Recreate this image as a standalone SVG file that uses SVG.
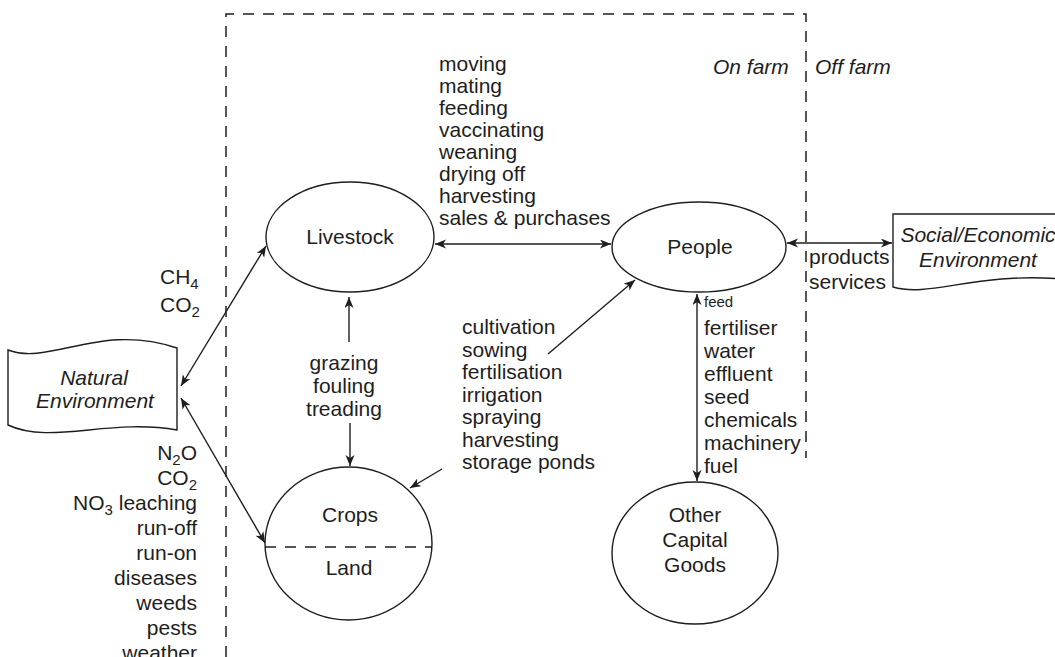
<svg xmlns="http://www.w3.org/2000/svg" width="1055" height="657" viewBox="0 0 1055 657">
  <style>
    .t { font-family: "Liberation Sans", Arial, Helvetica, sans-serif; font-size: 21px; fill: #1e1e1e; }
    .i { font-style: italic; }
    .c { text-anchor: middle; }
    .e { text-anchor: end; }
    .sm { font-size: 15px; }
    .node { fill: #fff; stroke: #1e1e1e; stroke-width: 1.4; }
    .line { fill: none; stroke: #1e1e1e; stroke-width: 1.4; }
    .dash { fill: none; stroke: #1e1e1e; stroke-width: 1.5; stroke-dasharray: 11 9; }
  </style>
  <defs>
    <marker id="ah" markerUnits="userSpaceOnUse" markerWidth="12" markerHeight="10" refX="11" refY="4.5" orient="auto-start-reverse">
      <path d="M0,0 L11,4.5 L0,9 L3,4.5 Z" fill="#1e1e1e"/>
    </marker>
  </defs>
  <rect width="1055" height="657" fill="#fff"/>

  <!-- farm boundary -->
  <g id="boundary">
    <path class="dash" d="M226,657 V14 H806 V458"/>
    <text class="t i" x="713" y="74">On farm</text>
    <text class="t i" x="815" y="74">Off farm</text>
  </g>

  <!-- connectors -->
  <g id="connectors">
    <line class="line" x1="435" y1="244" x2="611" y2="244" marker-start="url(#ah)" marker-end="url(#ah)"/>
    <line class="line" x1="787" y1="243" x2="892" y2="243" marker-start="url(#ah)" marker-end="url(#ah)"/>
    <line class="line" x1="181" y1="386" x2="266" y2="246" marker-start="url(#ah)" marker-end="url(#ah)"/>
    <line class="line" x1="181" y1="398" x2="265" y2="543" marker-start="url(#ah)" marker-end="url(#ah)"/>
    <line class="line" x1="349" y1="342" x2="349" y2="297" marker-end="url(#ah)"/>
    <line class="line" x1="350" y1="423" x2="350" y2="466" marker-end="url(#ah)"/>
    <line class="line" x1="442" y1="469" x2="410" y2="488" marker-end="url(#ah)"/>
    <line class="line" x1="548" y1="354" x2="635" y2="280" marker-end="url(#ah)"/>
    <line class="line" x1="697" y1="294" x2="697" y2="481" marker-start="url(#ah)" marker-end="url(#ah)"/>
    <line class="line" x1="402" y1="529" x2="402" y2="572" marker-start="url(#ah)" marker-end="url(#ah)"/>
  </g>

  <!-- nodes -->
  <g id="livestock">
    <ellipse class="node" cx="350" cy="237" rx="84" ry="55"/>
    <text class="t c" x="350" y="244">Livestock</text>
  </g>
  <g id="people">
    <ellipse class="node" cx="699" cy="247" rx="87" ry="45"/>
    <text class="t c" x="700" y="254">People</text>
  </g>
  <g id="crops-land">
    <ellipse class="node" cx="348.5" cy="543.5" rx="83.5" ry="76.5"/>
    <line class="dash" x1="265" y1="547" x2="432" y2="547" stroke-dasharray="12 8"/>
    <text class="t c" x="350" y="522">Crops</text>
    <text class="t c" x="349" y="575">Land</text>
  </g>
  <g id="capital">
    <ellipse class="node" cx="695" cy="553" rx="83" ry="71"/>
    <text class="t c" x="695" y="522">Other</text>
    <text class="t c" x="695" y="547">Capital</text>
    <text class="t c" x="695" y="572">Goods</text>
  </g>
  <g id="natural-environment">
    <path class="node" d="M8,350 C50,366 100,322 177,348 V430 C110,418 50,445 8,425 Z"/>
    <text class="t i c" x="94" y="385">Natural</text>
    <text class="t i c" x="95" y="408">Environment</text>
  </g>
  <g id="social-environment">
    <path class="node" d="M893,214 H1062 V279 C975,272 930,298 893,287 Z"/>
    <text class="t i c" x="978" y="242">Social/Economic</text>
    <text class="t i c" x="978" y="267">Environment</text>
  </g>

  <!-- flow labels -->
  <g id="livestock-people-labels" class="t">
    <text x="439" y="71">moving</text>
    <text x="439" y="93">mating</text>
    <text x="439" y="115">feeding</text>
    <text x="439" y="137">vaccinating</text>
    <text x="439" y="159">weaning</text>
    <text x="439" y="181">drying off</text>
    <text x="439" y="203">harvesting</text>
    <text x="439" y="225">sales &amp; purchases</text>
  </g>
  <g id="crop-labels" class="t">
    <text x="462" y="334">cultivation</text>
    <text x="462" y="356.5">sowing</text>
    <text x="462" y="379">fertilisation</text>
    <text x="462" y="401.5">irrigation</text>
    <text x="462" y="424">spraying</text>
    <text x="462" y="446.5">harvesting</text>
    <text x="462" y="469">storage ponds</text>
  </g>
  <g id="grazing-labels" class="t c">
    <text x="344" y="370">grazing</text>
    <text x="344" y="393">fouling</text>
    <text x="344" y="416">treading</text>
  </g>
  <g id="input-labels" class="t">
    <text class="t sm" x="704" y="307">feed</text>
    <text x="704" y="335">fertiliser</text>
    <text x="704" y="358">water</text>
    <text x="704" y="381">effluent</text>
    <text x="704" y="404">seed</text>
    <text x="704" y="427">chemicals</text>
    <text x="704" y="450">machinery</text>
    <text x="704" y="473">fuel</text>
  </g>
  <g id="market-labels" class="t">
    <text x="809" y="264">products</text>
    <text x="809" y="289">services</text>
  </g>
  <g id="emission-labels" class="t">
    <text x="160" y="284">CH<tspan font-size="15" dy="5">4</tspan></text>
    <text x="160" y="312">CO<tspan font-size="15" dy="5">2</tspan></text>
  </g>
  <g id="land-exchange-labels" class="t e">
    <text x="197" y="460">N<tspan font-size="15" dy="5">2</tspan><tspan dy="-5">O</tspan></text>
    <text x="197" y="485">CO<tspan font-size="15" dy="5">2</tspan></text>
    <text x="197" y="510">NO<tspan font-size="15" dy="5">3</tspan><tspan dy="-5"> leaching</tspan></text>
    <text x="197" y="535">run-off</text>
    <text x="197" y="560">run-on</text>
    <text x="197" y="585">diseases</text>
    <text x="197" y="610">weeds</text>
    <text x="197" y="635">pests</text>
    <text x="197" y="660">weather</text>
  </g>
</svg>
